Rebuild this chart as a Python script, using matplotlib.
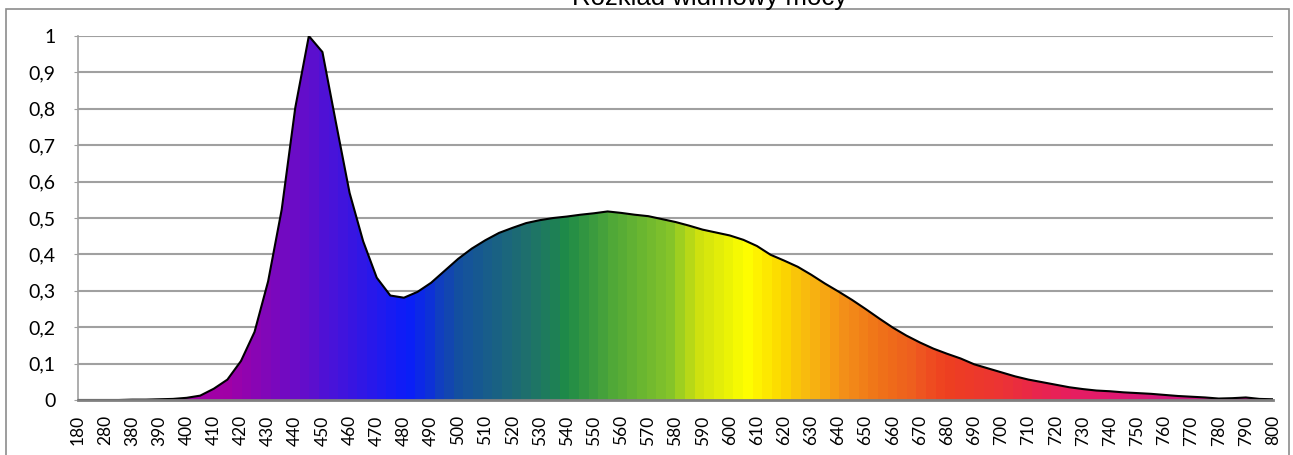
import matplotlib.pyplot as plt
import numpy as np
from matplotlib.colors import LinearSegmentedColormap
from matplotlib.patches import Rectangle

# wavelengths (nm) as categories, every 2nd one is labelled
wavelengths = [180, 230, 280, 330] + list(range(380, 805, 5))
power = [0.0, 0.0, 0.0, 0.0,
         0.001, 0.001, 0.002, 0.003, 0.006, 0.012, 0.031, 0.056, 0.107, 0.187,
         0.326, 0.523, 0.803, 1.0, 0.956, 0.761, 0.569, 0.436, 0.336, 0.287,
         0.281, 0.297, 0.322, 0.355, 0.388, 0.416, 0.439, 0.459, 0.473, 0.486,
         0.494, 0.500, 0.504, 0.509, 0.513, 0.518, 0.514, 0.509, 0.505, 0.497,
         0.489, 0.479, 0.468, 0.460, 0.452, 0.440, 0.423, 0.399, 0.383, 0.366,
         0.344, 0.320, 0.298, 0.275, 0.250, 0.224, 0.199, 0.177, 0.158, 0.141,
         0.127, 0.114, 0.098, 0.087, 0.076, 0.065, 0.056, 0.049, 0.042, 0.035,
         0.030, 0.026, 0.024, 0.021, 0.019, 0.017, 0.014, 0.011, 0.009, 0.007,
         0.004, 0.005, 0.007, 0.003, 0.002]
tick_labels = [str(w) for w in wavelengths[::2]]
yticks = [0, 0.1, 0.2, 0.3, 0.4, 0.5, 0.6, 0.7, 0.8, 0.9, 1]
ytick_labels = ['0', '0,1', '0,2', '0,3', '0,4', '0,5', '0,6', '0,7', '0,8', '0,9', '1']

# spectrum gradient stops (fraction of axis width, colour)
stops = [(0.0, '#a000a8'), (0.12, '#a200a6'), (0.194, '#5a10d0'),
         (0.273, '#0a1efa'), (0.318, '#1450a0'), (0.37, '#1e6e70'),
         (0.409, '#1e8a48'), (0.447, '#50a838'), (0.5, '#8cc828'),
         (0.52, '#cce010'), (0.56, '#ffff00'), (0.588, '#fcd800'),
         (0.615, '#f8b810'), (0.643, '#f49018'), (0.67, '#f07418'),
         (0.705, '#ee5a20'), (0.73, '#ee4020'), (0.774, '#ec3434'),
         (0.80, '#ea2848'), (0.83, '#e8205c'), (0.87, '#e01870'),
         (1.0, '#b81890')]
cmap = LinearSegmentedColormap.from_list('spec', stops)

fig = plt.figure(figsize=(12.93, 4.55), dpi=100)
ax = fig.add_axes([78/1293, 1-400/455, 1195/1293, 364/455])

x = np.arange(len(wavelengths))
n = len(x) - 1

# banded gradient clipped to the area under the curve
bands = np.linspace(0, 1, 124).reshape(1, -1)
img = ax.imshow(bands, cmap=cmap, extent=[0, n, 0, 1], aspect='auto',
                interpolation='nearest', zorder=2)
poly = ax.fill_between(x, power, 0, facecolor='none', edgecolor='none', zorder=2)
img.set_clip_path(poly.get_paths()[0], transform=ax.transData)
ax.plot(x, power, color='black', lw=1.5, zorder=3)

ax.set_xlim(0, n)
ax.set_ylim(0, 1)
ax.set_yticks(yticks)
ax.set_yticklabels(ytick_labels)
ax.set_xticks(x[::2])
ax.set_xticklabels(tick_labels, rotation=90)
ax.grid(axis='y', color='#a0a0a0', lw=1.5, zorder=1)
ax.set_axisbelow(True)

for s in ['top', 'right']:
    ax.spines[s].set_visible(False)
ax.spines['left'].set_color('#a0a0a0')
ax.spines['left'].set_linewidth(1.2)
ax.spines['bottom'].set_color('#808080')
ax.spines['bottom'].set_linewidth(2)
ax.spines['bottom'].set_zorder(4)

ax.tick_params(axis='y', length=3, color='#a0a0a0', pad=13, labelsize=14)
ax.tick_params(axis='x', length=0, pad=11, labelsize=12.5)
for lab in ax.get_xticklabels() + ax.get_yticklabels():
    lab.set_family('Lato')

# chart border and title (cut off at top, as in the source)
fig.patches.append(Rectangle((6/1293, -0.05), 1283/1293, 1.05 - 9/455,
                             transform=fig.transFigure, fill=False,
                             edgecolor='#8c8c8c', lw=1.2))
fig.text(710/1293, 1-5/455, 'Rozkład widmowy mocy', ha='center', va='baseline',
         fontsize=18.5, family='Liberation Sans')

plt.savefig('out.png', dpi=100)
